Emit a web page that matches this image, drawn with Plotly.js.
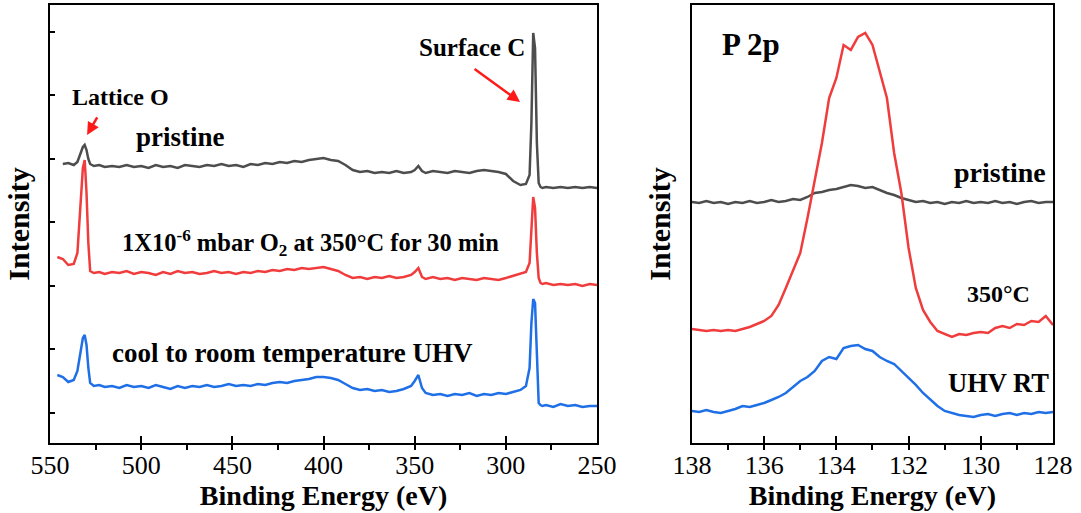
<!DOCTYPE html>
<html>
<head>
<meta charset="utf-8">
<script src="https://cdn.plot.ly/plotly-3.0.1.min.js"></script>
<style>html,body{margin:0;padding:0;background:#fff;}#chart{width:1081px;height:513px;}</style>
</head>
<body>
<div id="chart"></div>
<script>
// ---- Survey spectra (left panel) ----
const surveyEnergy = [546,543,540,537,535,533,532,531,530,529,528,526,523,520,516,512,508,504,500,496,492,488,484,480,476,472,468,464,460,456,452,448,444,440,436,432,428,424,420,416,412,408,404,400,396,392,388,384,380,376,372,368,364,360,356,352,350,348,346,344,340,336,332,328,324,320,316,312,308,304,300,296,292,289,287,286,285,284,283,282,281,280,278,274,270,266,262,258,254,250];
const surveyPristine = [null,279,280,278,281,291,296,298,293,284,279,277,278,276,277,276,278,276,277,275,278,276,277,275,278,277,276,278,277,279,277,278,276,279,278,280,279,281,280,282,281,283,284,285,283,282,278,273,271,272,270,271,270,272,270,271,273,277,272,270,272,271,270,272,271,270,272,273,272,271,269,262,258,259,268,320,410,395,300,260,256,255,256,255,256,255,256,255,256,255];
const surveyO2 = [186,184,178,179,190,240,275,283,250,200,172,170,171,169,171,170,172,169,171,170,168,171,169,172,170,171,169,170,172,170,171,169,171,170,172,171,173,172,174,173,175,174,175,176,174,172,168,165,166,164,166,165,167,165,166,168,171,175,166,164,166,164,165,163,165,164,163,165,164,163,165,167,169,171,180,215,246,235,190,165,160,159,160,158,159,158,159,157,159,158];
const surveyUHV = [68,66,61,63,72,95,105,108,98,75,60,57,58,56,57,55,58,56,57,55,58,56,54,57,55,57,56,58,56,57,59,57,58,57,59,58,60,61,60,62,63,64,66,66,65,63,59,55,53,54,52,53,51,52,54,57,62,68,55,50,48,49,47,49,48,50,47,49,48,50,49,51,53,57,75,120,144,140,90,40,38,37,38,36,39,37,38,36,37,37];

// ---- P 2p spectra (right panel) ----
const p2pEnergy = [138.0,137.8,137.6,137.4,137.2,137.0,136.8,136.6,136.4,136.2,136.0,135.8,135.6,135.4,135.2,135.0,134.8,134.6,134.4,134.2,134.0,133.8,133.6,133.4,133.2,133.0,132.8,132.6,132.4,132.2,132.0,131.8,131.6,131.4,131.2,131.0,130.8,130.6,130.4,130.2,130.0,129.8,129.6,129.4,129.2,129.0,128.8,128.6,128.4,128.2,128.0];
const p2pPristine = [241,240,242,240,241,239,241,240,242,240,241,243,241,242,244,243,246,250,251,253,254,256,258,257,255,256,253,250,248,245,243,241,242,240,241,239,241,240,242,240,241,240,242,240,241,239,241,242,240,241,241];
const p2p350 = [114,113,112,113,112,113,112,114,116,119,122,127,138,155,173,190,225,262,300,345,365,398,393,406,410,398,372,345,290,250,195,155,133,121,112,109,106,109,108,110,111,110,115,117,115,119,118,122,121,127,118];
const p2pUHV = [32,31,33,31,30,32,34,37,36,38,40,43,46,50,56,62,66,72,82,86,84,95,97,98,94,92,86,82,79,72,66,58,50,43,37,32,30,28,27,26,28,29,27,29,30,28,30,29,31,30,31];

const leftTicks = [550,500,450,400,350,300,250];
const rightTicks = [138,136,134,132,130,128];

const cGrey = '#4d4d4d', cRed = '#f03c3c', cBlue = '#1f6fe6';
const serif = 'Liberation Serif, Times New Roman, serif';

const traces = [
  {x: surveyEnergy, y: surveyPristine, xaxis:'x', yaxis:'y', mode:'lines', line:{color:cGrey, width:2.5}, name:'pristine'},
  {x: surveyEnergy, y: surveyO2, xaxis:'x', yaxis:'y', mode:'lines', line:{color:cRed, width:2.5}, name:'350°C O2'},
  {x: surveyEnergy, y: surveyUHV, xaxis:'x', yaxis:'y', mode:'lines', line:{color:cBlue, width:2.5}, name:'UHV'},
  {x: p2pEnergy, y: p2pPristine, xaxis:'x2', yaxis:'y2', mode:'lines', line:{color:cGrey, width:2.5}, name:'pristine'},
  {x: p2pEnergy, y: p2p350, xaxis:'x2', yaxis:'y2', mode:'lines', line:{color:cRed, width:2.5}, name:'350°C'},
  {x: p2pEnergy, y: p2pUHV, xaxis:'x2', yaxis:'y2', mode:'lines', line:{color:cBlue, width:2.5}, name:'UHV RT'}
];

const tickFont = {family: serif, size: 26, color:'#000'};
const titleFont = {family: serif, size: 28, color:'#000', weight: 'bold'};
const yTitleFont = {family: serif, size: 30, color:'#000', weight: 'bold'};

function xAxis(domain, range, ticks, minorD, anchor){
  return {
    domain: domain, range: range, anchor: anchor,
    tickvals: ticks, ticktext: ticks.map(String),
    ticks:'inside', ticklen:7, tickwidth:2, tickcolor:'#000',
    minor:{ticks:'outside', ticklen:5, tickwidth:2, tickcolor:'#000', dtick:minorD},
    showline:true, linewidth:2, linecolor:'#000', mirror:true,
    showgrid:false, zeroline:false, tickfont: tickFont, ticklabelstandoff: -2,
    title:{text:'Binding Energy (eV)', font: titleFont, standoff: 0}
  };
}

const layout = {
  width:1081, height:513,
  margin:{l:0, r:0, t:0, b:0},
  paper_bgcolor:'#fff', plot_bgcolor:'#fff',
  showlegend:false,
  xaxis: xAxis([0.0463,0.5523],[550,250],leftTicks,25,'y'),
  xaxis2: xAxis([0.6401,0.9741],[138,128],rightTicks,1,'y2'),
  yaxis: {domain:[0.1365,0.9903], range:[0,438], anchor:'x',
    tick0:30, dtick:63.5, ticks:'inside', ticklen:5, tickwidth:2, tickcolor:'#000',
    showticklabels:false, showline:true, linewidth:2, linecolor:'#000', mirror:true,
    showgrid:false, zeroline:false,
    title:{text:'Intensity', font: yTitleFont, standoff: 10}},
  yaxis2: {domain:[0.1365,0.9903], range:[0,438], anchor:'x2',
    ticks:'', showticklabels:false, showline:true, linewidth:2, linecolor:'#000', mirror:true,
    showgrid:false, zeroline:false,
    title:{text:'Intensity', font: yTitleFont, standoff: 10}},
  annotations: [
    {xref:'x', yref:'y', x:511.6, y:346, text:'<b>Lattice O</b>', showarrow:false, font:{family:serif, size:24, color:'#000'}},
    {xref:'x', yref:'y', x:529.7, y:308, text:'', showarrow:true, ax:11, ay:-19, arrowhead:2, arrowsize:1, arrowwidth:2.5, arrowcolor:'#ff1a1a'},
    {xref:'x', yref:'y', x:478.2, y:306, text:'<b>pristine</b>', showarrow:false, font:{family:serif, size:27, color:'#000'}},
    {xref:'x', yref:'y', x:318.6, y:395, text:'<b>Surface C</b>', showarrow:false, font:{family:serif, size:25, color:'#000'}},
    {xref:'x', yref:'y', x:292.2, y:341, text:'', showarrow:true, ax:-47, ay:-34, arrowhead:2, arrowsize:1, arrowwidth:2.5, arrowcolor:'#ff1a1a'},
    {xref:'x', yref:'y', x:407.4, y:200, text:'<b>1X10<sup>-6</sup> mbar O<sub>2</sub> at 350°C for 30 min</b>', showarrow:false, font:{family:serif, size:24.5, color:'#000'}},
    {xref:'x', yref:'y', x:417.3, y:90, text:'<b>cool to room temperature UHV</b>', showarrow:false, font:{family:serif, size:27, color:'#000'}},
    {xref:'x2', yref:'y2', x:136.37, y:398, text:'<b>P 2p</b>', showarrow:false, font:{family:serif, size:31, color:'#000'}},
    {xref:'x2', yref:'y2', x:129.47, y:270, text:'<b>pristine</b>', showarrow:false, font:{family:serif, size:28, color:'#000'}},
    {xref:'x2', yref:'y2', x:129.5, y:149, text:'<b>350°C</b>', showarrow:false, font:{family:serif, size:24, color:'#000'}},
    {xref:'x2', yref:'y2', x:129.52, y:60, text:'<b>UHV RT</b>', showarrow:false, font:{family:serif, size:26.5, color:'#000'}}
  ]
};

Plotly.newPlot('chart', traces, layout, {staticPlot:true, displayModeBar:false});
</script>
</body>
</html>
